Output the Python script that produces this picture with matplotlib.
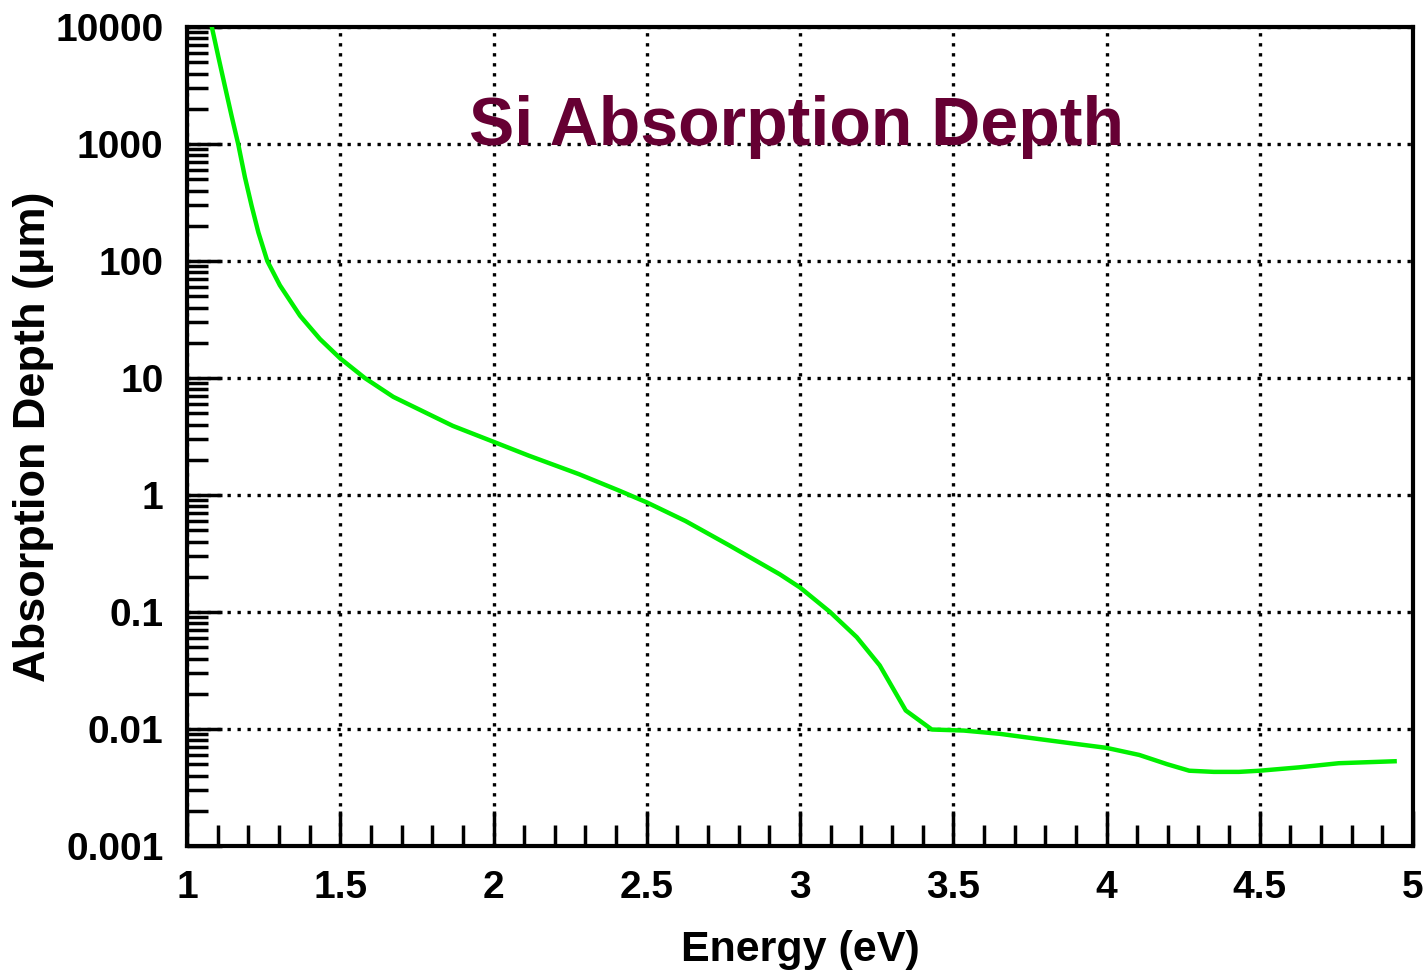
import matplotlib
matplotlib.use("Agg")
import matplotlib.pyplot as plt
from matplotlib.ticker import LogLocator, MultipleLocator, NullFormatter
import numpy as np

# ---- data ----
energy_eV = [1.081, 1.102, 1.124, 1.146, 1.167, 1.189, 1.211, 1.233, 1.262, 1.303,
             1.369, 1.434, 1.50, 1.58, 1.673, 1.867, 2.0, 2.115, 2.278, 2.41,
             2.5, 2.626, 2.77, 2.934, 3.0, 3.098, 3.185, 3.26, 3.345, 3.43,
             3.534, 3.651, 3.78, 3.91, 4.0, 4.107, 4.198, 4.27, 4.35, 4.432,
             4.5, 4.628, 4.758, 4.94]
depth_um = [10000, 5600, 3090, 1714, 1000, 520, 295, 175, 100, 62,
            34, 21.5, 14.7, 10, 6.9, 3.9, 2.85, 2.17, 1.51, 1.09,
            0.865, 0.60, 0.37, 0.21, 0.162, 0.1, 0.061, 0.035, 0.0144, 0.0099,
            0.0097, 0.0091, 0.0082, 0.0074, 0.0069, 0.0060, 0.0050, 0.0044, 0.0043, 0.0043,
            0.0044, 0.0047, 0.0051, 0.0053]

x_ticks = [1, 1.5, 2, 2.5, 3, 3.5, 4, 4.5, 5]
x_tick_labels = ["1", "1.5", "2", "2.5", "3", "3.5", "4", "4.5", "5"]
y_ticks = [0.001, 0.01, 0.1, 1, 10, 100, 1000, 10000]
y_tick_labels = ["0.001", "0.01", "0.1", "1", "10", "100", "1000", "10000"]

title = "Si Absorption Depth"
xlabel = "Energy (eV)"
ylabel = "Absorption Depth (\u03bcm)"

FONT = "Liberation Sans"

fig = plt.figure(figsize=(14.27, 9.74), dpi=100)
ax = fig.add_axes([187 / 1427, 128 / 974, 1226 / 1427, 819 / 974])

ax.set_yscale("log")
ax.set_xlim(1, 5)
ax.set_ylim(0.001, 10000)

ax.plot(energy_eV, depth_um, color="#00f000", linewidth=3.2, zorder=3,
        solid_joinstyle="round")

ax.set_xticks(x_ticks)
ax.set_xticklabels(x_tick_labels)
ax.set_yticks(y_ticks)
ax.set_yticklabels(y_tick_labels)
ax.xaxis.set_minor_locator(MultipleLocator(0.1))
ax.yaxis.set_minor_locator(LogLocator(base=10, subs=np.arange(2, 10), numticks=20))
ax.yaxis.set_minor_formatter(NullFormatter())

ax.grid(True, which="major", color="black", linestyle=(0, (1, 2)), linewidth=2.4,
        dash_capstyle="butt")

ax.tick_params(which="major", direction="in", length=25, width=2.5,
               top=False, right=False, pad=17)
ax.tick_params(which="minor", direction="in", length=15, width=2.5,
               top=False, right=False)

for lab in ax.get_xticklabels() + ax.get_yticklabels():
    lab.set_fontfamily(FONT)
    lab.set_fontweight("bold")
    lab.set_fontsize(28)

for sp in ax.spines.values():
    sp.set_linewidth(3.0)

ax.set_xlabel(xlabel, fontfamily=FONT, fontweight="bold", fontsize=31)
ax.set_ylabel(ylabel, fontfamily=FONT, fontweight="bold", fontsize=32.5)
ax.xaxis.set_label_coords(0.5, -0.127)
ax.yaxis.set_label_coords(-0.1256, 0.5)
ax.xaxis.label.set_va("center")
ax.yaxis.label.set_va("center")

ax.text(2.99, 980, title, ha="center", va="baseline", fontfamily=FONT,
        fontweight="bold", fontsize=49, color="#660033", zorder=4)

fig.savefig("out.png", dpi=100)
